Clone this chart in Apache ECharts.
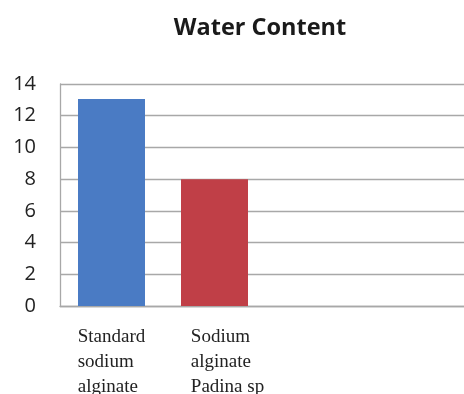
<!DOCTYPE html>
<html>
<head>
<meta charset="utf-8">
<script src="https://cdn.jsdelivr.net/npm/echarts@6/dist/echarts.min.js"></script>
<style>
  html, body { margin: 0; padding: 0; background: #fff; overflow: hidden; }
  #chart { width: 464px; height: 394px; }
</style>
</head>
<body>
<div id="chart"></div>
<script>
// Water content of two sodium alginate samples
const categories = ['Standard\nsodium\nalginate', 'Sodium\nalginate\nPadina sp', '', ''];
const waterContent = [13.05, 8, null, null];
const yTicks = { min: 0, max: 14, interval: 2 };
const barColors = ['#4a7bc4', '#c03f47'];

const chart = echarts.init(document.getElementById('chart'), null, { renderer: 'canvas' });

chart.setOption({
  animation: false,
  backgroundColor: '#ffffff',
  title: {
    text: 'Water Content',
    left: 255,
    top: 11,
    textAlign: 'center',
    textStyle: {
      fontFamily: 'Open Sans',
      fontWeight: 'bold',
      fontSize: 23.5,
      color: '#1a1a1a'
    }
  },
  // plot area runs a little past the right edge of the view
  grid: { left: 60, width: 412, top: 84, bottom: 88, outerBoundsMode: 'none', containLabel: false },
  xAxis: {
    type: 'category',
    data: categories.map((name, i) => i === 1
      ? { value: name, textStyle: { padding: [0, 0, 0, 26] } }
      : name),
    axisLine: { show: true, lineStyle: { color: '#a8a8a8', width: 1.3 } },
    axisTick: { show: false },
    axisLabel: {
      interval: 0,
      margin: 19,
      align: 'center',
      verticalAlign: 'top',
      formatter: v => v ? '{t|' + v.split('\n').join('}\n{t|') + '}' : '',
      rich: {
        t: {
          fontFamily: 'Liberation Serif',
          fontSize: 19,
          lineHeight: 25,
          color: '#222',
          align: 'left'
        }
      }
    }
  },
  yAxis: {
    type: 'value',
    min: yTicks.min,
    max: yTicks.max,
    interval: yTicks.interval,
    axisLine: { show: true, lineStyle: { color: '#a8a8a8', width: 1.3 } },
    axisTick: { show: false },
    splitLine: { show: true, lineStyle: { color: '#a8a8a8', width: 1.3 } },
    axisLabel: {
      margin: 24,
      fontFamily: 'Open Sans',
      fontSize: 20,
      color: '#222'
    }
  },
  color: barColors,
  series: [{
    type: 'bar',
    colorBy: 'data',
    data: waterContent,
    barWidth: 67
  }]
});
</script>
</body>
</html>
